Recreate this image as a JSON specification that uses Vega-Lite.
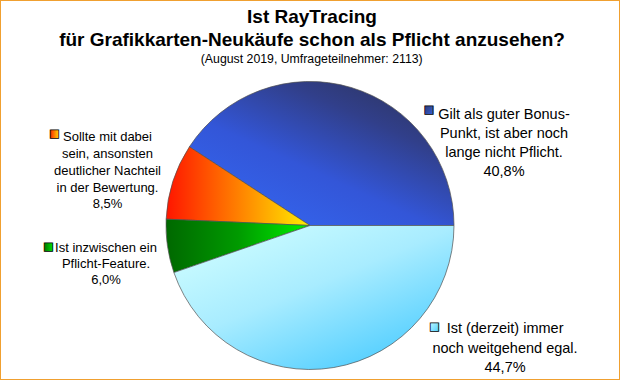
{
  "$schema": "https://vega.github.io/schema/vega-lite/v6.json",
  "background": "#f0a030",
  "padding": 1,
  "spacing": 0,
  "bounds": "flush",
  "config": {"view": {"stroke": null}, "font": "Liberation Sans"},
  "datasets": {
    "antworten": [
      {"key": "gilt", "order": 1, "value": 40.8, "label": "Gilt als guter Bonus-\nPunkt, ist aber noch\nlange nicht Pflicht.\n40,8%"},
      {"key": "sollte", "order": 2, "value": 8.5, "label": "Sollte mit dabei\nsein, ansonsten\ndeutlicher Nachteil\nin der Bewertung.\n8,5%"},
      {"key": "inzw", "order": 3, "value": 6.0, "label": "Ist inzwischen ein\nPflicht-Feature.\n6,0%"},
      {"key": "egal", "order": 4, "value": 44.7, "label": "Ist (derzeit) immer\nnoch weitgehend egal.\n44,7%"}
    ],
    "kopf": [
      {"titel": "Ist RayTracing\nfür Grafikkarten-Neukäufe schon als Pflicht anzusehen?", "unter": "(August 2019, Umfrageteilnehmer: 2113)"}
    ]
  },
  "vconcat": [
    {
      "width": 618,
      "height": 71,
      "data": {"name": "kopf"},
      "layer": [
        {"mark": {"type": "rect", "fill": "white", "strokeWidth": 0}, "encoding": {}},
        {"mark": {"type": "text", "font": "Liberation Sans", "fontSize": 19, "fontWeight": "bold", "lineHeight": 23, "lineBreak": "\n", "align": "center", "baseline": "alphabetic", "dx": 2, "dy": -13.8, "fill": "black"},
         "encoding": {"text": {"field": "titel"}}},
        {"mark": {"type": "text", "font": "Liberation Sans", "fontSize": 12.3, "align": "center", "baseline": "alphabetic", "dx": 1.7, "dy": 26.2, "fill": "black"},
         "encoding": {"text": {"field": "unter"}}}
      ]
    },
    {
      "width": 618,
      "height": 307,
      "data": {"name": "antworten"},
      "transform": [
        {"stack": "value", "groupby": [], "sort": [{"field": "order", "order": "ascending"}], "as": ["start", "end"]},
        {"calculate": "(datum.start + datum.end) / 2", "as": "mid"}
      ],
      "layer": [
        {"transform": [{"filter": "datum.order === 1"}], "mark": {"type": "rect", "fill": "white", "strokeWidth": 0}, "encoding": {}},
        {
          "transform": [{"filter": "datum.key === 'gilt'"}],
          "layer": [
            {"mark": {"type": "arc", "outerRadius": 144, "stroke": "#505050", "strokeWidth": 0.7,
              "fill": {"gradient": "linear", "x1": 1, "y1": 0, "x2": 0.25, "y2": 0.9, "stops": [{"offset": 0, "color": "#2c3050"}, {"offset": 0.35, "color": "#313f8a"}, {"offset": 0.7, "color": "#3356d8"}, {"offset": 1, "color": "#3462ea"}]}},
             "encoding": {"theta": {"field": "start", "type": "quantitative", "scale": {"domain": [0, 100], "range": [1.5707963, -4.712389]}}, "theta2": {"field": "end"}}},
            {"mark": {"type": "text", "text": "■", "font": "DejaVu Sans", "fontSize": 11, "align": "center", "baseline": "middle", "radius": 165, "dx": 72, "dy": 42.2, "stroke": "black", "strokeWidth": 0.8,
              "fill": {"gradient": "linear", "x1": 0, "y1": 0, "x2": 1, "y2": 1, "stops": [{"offset": 0, "color": "#2e3456"}, {"offset": 1, "color": "#3462ea"}]}},
             "encoding": {"theta": {"field": "mid", "type": "quantitative", "scale": {"domain": [0, 100], "range": [1.5707963, -4.712389]}}}},
            {"mark": {"type": "text", "fontSize": 14.5, "lineHeight": 19, "lineBreak": "\n", "align": "center", "baseline": "middle", "radius": 165, "dx": 147, "dy": 47.3, "fill": "black"},
             "encoding": {"theta": {"field": "mid", "type": "quantitative", "scale": {"domain": [0, 100], "range": [1.5707963, -4.712389]}}, "text": {"field": "label"}}}
          ]
        },
        {
          "transform": [{"filter": "datum.key === 'sollte'"}],
          "layer": [
            {"mark": {"type": "arc", "outerRadius": 144, "stroke": "#505050", "strokeWidth": 0.7,
              "fill": {"gradient": "linear", "x1": 0, "y1": 0.5, "x2": 1, "y2": 0.5, "stops": [{"offset": 0, "color": "#ff1500"}, {"offset": 0.5, "color": "#ff8000"}, {"offset": 1, "color": "#ffee00"}]}},
             "encoding": {"theta": {"field": "start", "type": "quantitative", "scale": {"domain": [0, 100], "range": [1.5707963, -4.712389]}}, "theta2": {"field": "end"}}},
            {"mark": {"type": "text", "text": "■", "font": "DejaVu Sans", "fontSize": 11, "align": "center", "baseline": "middle", "radius": 165, "dx": -98.4, "dy": -41.0, "stroke": "black", "strokeWidth": 0.8,
              "fill": {"gradient": "linear", "x1": 0, "y1": 0.5, "x2": 1, "y2": 0.5, "stops": [{"offset": 0, "color": "#ff1500"}, {"offset": 0.5, "color": "#ff8000"}, {"offset": 1, "color": "#ffee00"}]}},
             "encoding": {"theta": {"field": "mid", "type": "quantitative", "scale": {"domain": [0, 100], "range": [1.5707963, -4.712389]}}}},
            {"mark": {"type": "text", "fontSize": 13, "lineHeight": 16.75, "lineBreak": "\n", "align": "center", "baseline": "middle", "radius": 165, "dx": -45.4, "dy": -37.7, "fill": "black"},
             "encoding": {"theta": {"field": "mid", "type": "quantitative", "scale": {"domain": [0, 100], "range": [1.5707963, -4.712389]}}, "text": {"field": "label"}}}
          ]
        },
        {
          "transform": [{"filter": "datum.key === 'inzw'"}],
          "layer": [
            {"mark": {"type": "arc", "outerRadius": 144, "stroke": "#505050", "strokeWidth": 0.7,
              "fill": {"gradient": "linear", "x1": 0, "y1": 0.5, "x2": 1, "y2": 0.5, "stops": [{"offset": 0, "color": "#006800"}, {"offset": 0.5, "color": "#009a00"}, {"offset": 1, "color": "#00f000"}]}},
             "encoding": {"theta": {"field": "start", "type": "quantitative", "scale": {"domain": [0, 100], "range": [1.5707963, -4.712389]}}, "theta2": {"field": "end"}}},
            {"mark": {"type": "text", "text": "■", "font": "DejaVu Sans", "fontSize": 11, "align": "center", "baseline": "middle", "radius": 165, "dx": -98.2, "dy": -2.3, "stroke": "black", "strokeWidth": 0.8,
              "fill": {"gradient": "linear", "x1": 0, "y1": 0.5, "x2": 1, "y2": 0.5, "stops": [{"offset": 0, "color": "#006800"}, {"offset": 1, "color": "#00f000"}]}},
             "encoding": {"theta": {"field": "mid", "type": "quantitative", "scale": {"domain": [0, 100], "range": [1.5707963, -4.712389]}}}},
            {"mark": {"type": "text", "fontSize": 13, "lineHeight": 16.25, "lineBreak": "\n", "align": "center", "baseline": "middle", "radius": 165, "dx": -40.7, "dy": -1.65, "fill": "black"},
             "encoding": {"theta": {"field": "mid", "type": "quantitative", "scale": {"domain": [0, 100], "range": [1.5707963, -4.712389]}}, "text": {"field": "label"}}}
          ]
        },
        {
          "transform": [{"filter": "datum.key === 'egal'"}],
          "layer": [
            {"mark": {"type": "arc", "outerRadius": 144, "stroke": "#505050", "strokeWidth": 0.7,
              "fill": {"gradient": "linear", "x1": 0.1, "y1": 0, "x2": 0.9, "y2": 1, "stops": [{"offset": 0, "color": "#d2ffff"}, {"offset": 0.45, "color": "#a8ecff"}, {"offset": 1, "color": "#40c8ff"}]}},
             "encoding": {"theta": {"field": "start", "type": "quantitative", "scale": {"domain": [0, 100], "range": [1.5707963, -4.712389]}}, "theta2": {"field": "end"}}},
            {"mark": {"type": "text", "text": "■", "font": "DejaVu Sans", "fontSize": 11, "align": "center", "baseline": "middle", "radius": 165, "dx": 97.2, "dy": -61.2, "stroke": "black", "strokeWidth": 0.8,
              "fill": {"gradient": "linear", "x1": 0, "y1": 0, "x2": 1, "y2": 1, "stops": [{"offset": 0, "color": "#d2ffff"}, {"offset": 1, "color": "#40c8ff"}]}},
             "encoding": {"theta": {"field": "mid", "type": "quantitative", "scale": {"domain": [0, 100], "range": [1.5707963, -4.712389]}}}},
            {"mark": {"type": "text", "fontSize": 14.5, "lineHeight": 19.3, "lineBreak": "\n", "align": "center", "baseline": "middle", "radius": 165, "dx": 167.7, "dy": -59.0, "fill": "black"},
             "encoding": {"theta": {"field": "mid", "type": "quantitative", "scale": {"domain": [0, 100], "range": [1.5707963, -4.712389]}}, "text": {"field": "label"}}}
          ]
        }
      ]
    }
  ]
}
